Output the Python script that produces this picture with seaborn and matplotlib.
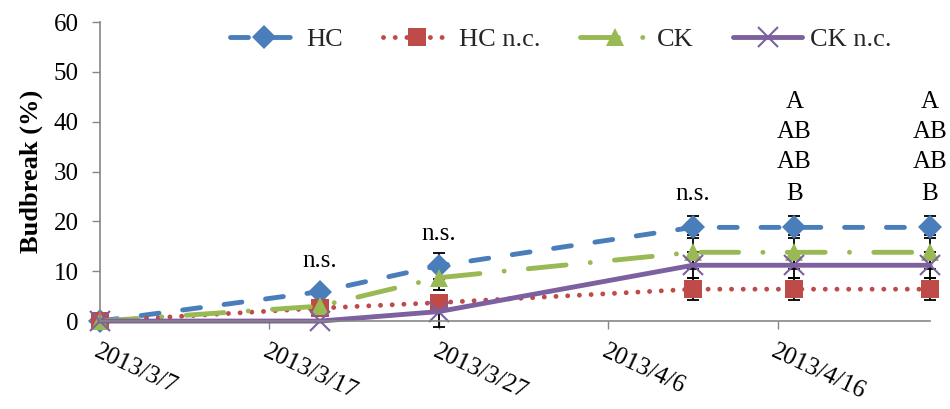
import matplotlib
matplotlib.use("Agg")
import matplotlib.pyplot as plt
import pandas as pd
import seaborn as sns

# values
dates = ["2013-03-07", "2013-03-20", "2013-03-27", "2013-04-11", "2013-04-17", "2013-04-25"]
series = ["HC", "HC n.c.", "CK", "CK n.c."]
hc = [0, 5.9, 11.1, 18.8, 18.8, 18.8]
hc_nc = [0, 2.6, 3.7, 6.4, 6.4, 6.4]
ck = [0, 3.0, 8.7, 13.8, 13.8, 13.8]
ck_nc = [0, 0, 1.9, 11.2, 11.2, 11.2]
hc_err = [0, 1.0, 2.6, 2.2, 2.2, 2.2]
hc_nc_err = [0, 1.0, 1.5, 2.2, 2.2, 2.2]
ck_err = [0, 1.0, 2.5, 3.4, 3.4, 3.4]
ck_nc_err = [0, 0, 3.0, 2.6, 2.6, 2.6]

tick_dates = ["2013-03-07", "2013-03-17", "2013-03-27", "2013-04-06", "2013-04-16"]
tick_labels = ["2013/3/7", "2013/3/17", "2013/3/27", "2013/4/6", "2013/4/16"]

# significance labels: (date, y baseline, text)
notes = [("2013-03-20", 10.8, "n.s."), ("2013-03-27", 16.3, "n.s."), ("2013-04-11", 24.3, "n.s."),
         ("2013-04-17", 42.8, "A"), ("2013-04-17", 36.7, "AB"), ("2013-04-17", 30.7, "AB"), ("2013-04-17", 24.3, "B"),
         ("2013-04-25", 42.8, "A"), ("2013-04-25", 36.7, "AB"), ("2013-04-25", 30.7, "AB"), ("2013-04-25", 24.3, "B")]

df = pd.DataFrame({
    "Date": pd.to_datetime(dates * 4),
    "Budbreak": hc + hc_nc + ck + ck_nc,
    "Err": hc_err + hc_nc_err + ck_err + ck_nc_err,
    "Treatment": [s for s in series for _ in dates],
})

styles = {
    "HC": dict(color="#4A7EBB", marker="D", markersize=12, linestyle=(0, (3.7, 4.9))),
    "HC n.c.": dict(color="#BE4B48", marker="s", markersize=13, linestyle=(0, (0.01, 2.4))),
    "CK": dict(color="#98B954", marker="^", markersize=13, linestyle=(0, (7.8, 5, 0.01, 5))),
    "CK n.c.": dict(color="#7D60A0", marker="x", markersize=14, linestyle="-"),
}

sns.set_style("ticks")
plt.rcParams["font.family"] = ["Liberation Serif", "DejaVu Serif"]

fig, ax = plt.subplots(figsize=(9.5, 4.09), dpi=100)
fig.subplots_adjust(left=0.105, right=0.979, bottom=0.215, top=0.946)

for s in series:
    d = df[df["Treatment"] == s]
    ax.errorbar(d["Date"], d["Budbreak"], yerr=d["Err"], fmt="none", ecolor="black",
                elinewidth=1.3, capsize=4, capthick=1.3, zorder=1.5, clip_on=False)

for s in series:
    d = df[df["Treatment"] == s]
    st = styles[s]
    sns.lineplot(data=d, x="Date", y="Budbreak", ax=ax, label=s, color=st["color"],
                 linestyle=st["linestyle"], linewidth=3.5, dash_capstyle="round",
                 marker=st["marker"], markersize=st["markersize"], markeredgecolor=st["color"],
                 markeredgewidth=1.5 if s == "CK n.c." else 0, markerfacecolor=st["color"],
                 errorbar=None, zorder=2, clip_on=False)

for dt, y, txt in notes:
    ax.text(pd.Timestamp(dt), y, txt, ha="center", va="baseline", fontsize=18, color="black")

ax.set_ylim(0, 60)
ax.set_yticks(range(0, 61, 10))
ax.set_xlim(pd.Timestamp(dates[0]), pd.Timestamp(dates[-1]))
ax.set_xticks(pd.to_datetime(tick_dates))
ax.set_xticklabels(tick_labels, rotation=-25, ha="left", va="top", rotation_mode="anchor")
ax.tick_params(axis="both", colors="#868686", labelcolor="black", labelsize=18, length=6, width=1)
ax.tick_params(axis="x", pad=8)
ax.tick_params(axis="y", pad=9)
for side in ["top", "right"]:
    ax.spines[side].set_visible(False)
for side in ["left", "bottom"]:
    ax.spines[side].set_color("#868686")
    ax.spines[side].set_linewidth(1.2)

ax.set_xlabel("")
ax.set_ylabel("Budbreak (%)", fontsize=19, fontweight="bold", color="black", labelpad=8)

ax.legend(loc="upper center", bbox_to_anchor=(0.555, 1.06), ncol=4, frameon=False, fontsize=19,
          handlelength=2.6, handletextpad=0.3, columnspacing=1.5, numpoints=1)

plt.savefig("out.png", dpi=100)
plt.close()
